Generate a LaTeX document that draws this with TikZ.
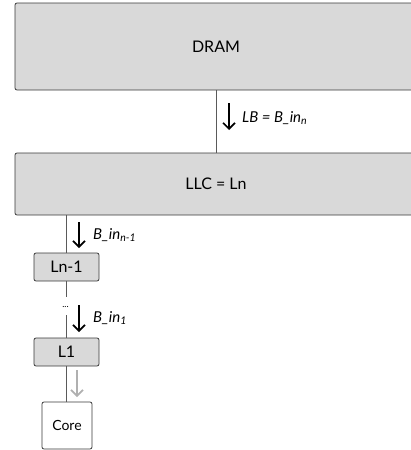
\documentclass[tikz,border=0pt]{standalone}
\usepackage{fontspec}
\setmainfont{Lato}
\usetikzlibrary{arrows.meta}
\definecolor{boxfill}{HTML}{D9D9D9}
\definecolor{boxline}{HTML}{3A3A3A}
\definecolor{linkline}{HTML}{5A5A5A}
\definecolor{fadedarrow}{HTML}{B0B0B0}
\tikzset{
  level/.style={draw=boxline, fill=boxfill, line width=0.8pt, rounded corners=2pt,
    inner sep=0pt, font=\fontsize{16}{18}\selectfont},
  smalllevel/.style={level, minimum width=65pt, minimum height=28pt},
  corebox/.style={draw=boxline, fill=white, line width=0.8pt, rounded corners=2pt,
    inner sep=0pt, minimum width=50pt, minimum height=47pt, font=\fontsize{14}{16}\selectfont},
  link/.style={draw=linkline, line width=0.9pt},
  flowarrow/.style={draw=black, line width=1.6pt,
    -{Straight Barb[length=6pt, width=12pt]}},
  fadedflow/.style={flowarrow, draw=fadedarrow},
  flowlabel/.style={anchor=west, inner sep=0pt, font=\itshape\fontsize{15}{17}\selectfont},
}
\begin{document}
\begin{tikzpicture}[x=1pt, y=-1pt]
  \useasboundingbox (0,0) rectangle (411,450);
  \clip (0,0) rectangle (411,450);

  % memory hierarchy levels
  \node[level, minimum width=402pt, minimum height=87pt] (dram) at (216,46.5) {DRAM};
  \node[level, minimum width=402pt, minimum height=62pt] (llc) at (216,184) {LLC = Ln};
  \node[smalllevel] (lnm) at (66.5,267) {Ln-1};
  \node[smalllevel] (lone) at (66.5,352) {L1};
  \node[corebox] (core) at (67,425.5) {Core};
  \node[inner sep=0pt, minimum height=18pt, font=\fontsize{9}{10}\selectfont] (dots) at (65.5,306) {\raisebox{-3pt}{...}};

  % links between levels
  \draw[link] (dram.south) -- (llc.north);
  \draw[link] (llc.south -| lnm.north) -- (lnm.north);
  \draw[link] (lnm.south) -- (dots.north -| lnm.south);
  \draw[link] (dots.south -| lone.north) -- (lone.north);
  \draw[link] (lone.south) -- (core.north -| lone.south);

  % block transfer arrows and labels
  \coordinate (a1s) at (229,103);  \coordinate (a1e) at (229,130);
  \coordinate (a2s) at (79,222);   \coordinate (a2e) at (79,248);
  \coordinate (a3s) at (79,305);   \coordinate (a3e) at (79,332);
  \coordinate (a4s) at (77,370);   \coordinate (a4e) at (77,397);
  \draw[flowarrow] (a1s) -- (a1e);
  \draw[flowarrow] (a2s) -- (a2e);
  \draw[flowarrow] (a3s) -- (a3e);
  \draw[fadedflow] (a4s) -- (a4e);
  \node[flowlabel] (lb1) at (242,118) {LB = B\_in\textsubscript{n}};
  \node[flowlabel] (lb2) at (93,235) {B\_in\textsubscript{n-1}};
  \node[flowlabel] (lb3) at (93,318) {B\_in\textsubscript{1}};
\end{tikzpicture}
\end{document}
